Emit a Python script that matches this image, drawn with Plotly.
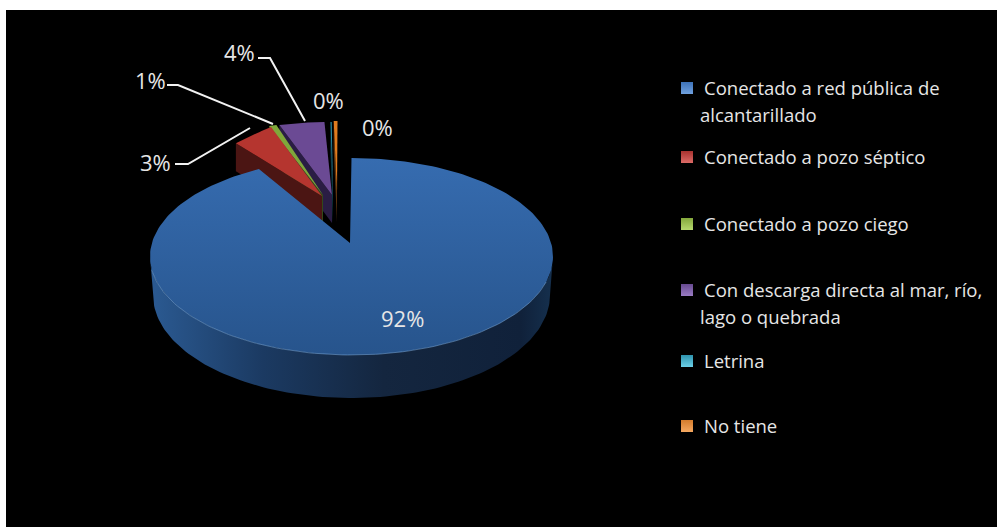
import math
import plotly.graph_objects as go

# ---- data ----
categories = ["Conectado a red pública de alcantarillado", "Conectado a pozo séptico",
              "Conectado a pozo ciego", "Con descarga directa al mar, río, lago o quebrada",
              "Letrina", "No tiene"]
shares = [92.4, 3.0, 0.6, 3.6, 0.1, 0.3]
percent_labels = ["92%", "3%", "1%", "4%", "0%", "0%"]
legend_lines = [["Conectado a red pública de", "alcantarillado"], ["Conectado a pozo séptico"],
                ["Conectado a pozo ciego"], ["Con descarga directa al mar, río,", "lago o quebrada"],
                ["Letrina"], ["No tiene"]]

# ---- styles and layout ----
W, H = 997, 527
FONT = "Open Sans"
face_colors = ["#2f62a3", "#b5352f", "#7fa83a", "#6b4a94", "#2b8ea8", "#e07b1f"]
wall_colors = ["#1a3a66", "#4b1513", "#33491a", "#2a1d44", "#0e3a47", "#5e3410"]
legend_fill = ["#3d72b8", "#a8322f", "#84a83c", "#674a90", "#2e93ad", "#d47c2c"]
legend_lite = ["#6fa0de", "#dc6a66", "#b6d86e", "#9a7cc4", "#6cd0e8", "#f5a860"]

CX, CY, RX, RY = 351.5, 256.5, 201.5, 98.5      # top ellipse
BCY, BRX, BRY = 295, 198.5, 103                  # bottom ellipse of the main slice
APEX = (350, 243)                                # main slice apex
EXP_APEX_Y = 231                                 # apex height used by the pulled-out slices
offsets = [(0, 0), (-23, -35), (-25, -36), (-22, -36), (-16, -36), (-14, -37)]
apex_dx = [0, -28, -27, -18, -17, -13]
shear = [0, 0.26, 0, 0, 0, 0]
WALL_D = 28

label_pos = [(402, 318), (155, 162), (150, 80), (239, 52), (328, 100), (377, 127)]
leaders = [None, [(175, 164), (188, 164), (250, 128)], [(167, 85), (178, 85), (273, 124)],
           [(258, 58), (270, 58), (305, 121)], None, None]
legend_first_y = [88, 157, 224, 290, 361, 426]
LEGEND_LINE_GAP = 27


def rim(t0, t1, n, cy=CY, rx=RX, ry=RY):
    n = max(n, 2)
    ts = [math.radians(t0 + (t1 - t0) * i / (n - 1)) for i in range(n)]
    return [CX + rx * math.sin(t) for t in ts], [cy - ry * math.cos(t) for t in ts]


def poly(xs, ys, color=None, gradient=None):
    d = dict(x=xs + xs[:1], y=ys + ys[:1], mode="lines", fill="toself", line=dict(width=0),
             hoverinfo="skip", showlegend=False)
    if gradient:
        d["fillgradient"] = gradient
        d["fillcolor"] = "rgba(0,0,0,0)"
    else:
        d["fillcolor"] = color
    return go.Scatter(**d)


# slice angles from the shares (clockwise from 12 o'clock)
total = sum(shares)
angles = [0]
for v in shares:
    angles.append(angles[-1] + 360 * v / total)

fig = go.Figure()

# pulled-out slices, back to front
for i in range(len(shares) - 1, 0, -1):
    dx, dy = offsets[i]
    px, py = rim(angles[i], angles[i + 1], 20)
    x_end = px[-1]
    ry_ = [y + dy - shear[i] * (x - x_end) for x, y in zip(px, py)]
    rx_ = [x + dx for x in px]
    ax, ay = APEX[0] + apex_dx[i], EXP_APEX_Y + dy
    # radial wall on the left of the slice
    fig.add_trace(poly([rx_[0], rx_[0], ax, ax], [ry_[0], ry_[0] + WALL_D, ay + WALL_D, ay], wall_colors[i]))
    fig.add_trace(poly(rx_ + [ax], ry_ + [ay], face_colors[i]))

# main slice: outer wall, then top face
tx, ty = rim(90, 270, 120)
bx, by = rim(90, 270, 120, cy=BCY, rx=BRX, ry=BRY)
fig.add_trace(poly(tx + bx[::-1], ty + by[::-1], gradient=dict(
    type="horizontal",
    colorscale=[[0, "#2b5a92"], [0.28, "#1b3a62"], [0.58, "#14263f"], [0.92, "#10213a"], [1, "#15304e"]])))
mx, my = rim(0, angles[1], 240)
fig.add_trace(poly(mx + [APEX[0]], my + [APEX[1]], gradient=dict(
    type="vertical", colorscale=[[0, "#27548c"], [1, "#366cb0"]])))
# soft highlight on the front edge
hx, hy = rim(105, 262, 100)
fig.add_trace(go.Scatter(x=hx, y=hy, mode="lines", line=dict(color="rgba(120,165,215,0.55)", width=1),
                         hoverinfo="skip", showlegend=False))

# leader lines
for pts in leaders:
    if pts:
        fig.add_trace(go.Scatter(x=[p[0] for p in pts], y=[p[1] for p in pts], mode="lines",
                                 line=dict(color="#f2f2f2", width=2), hoverinfo="skip", showlegend=False))

# legend squares
fig.add_trace(go.Scatter(
    x=[687] * len(categories), y=legend_first_y, mode="markers", hoverinfo="skip", showlegend=False,
    marker=dict(symbol="square", size=12, color=legend_fill,
                gradient=dict(type="vertical", color=legend_lite), line=dict(width=0))))

annotations = []
for (x, y), s in zip(label_pos, percent_labels):
    annotations.append(dict(x=x, y=y, text=s, showarrow=False, xanchor="center", yanchor="middle",
                            font=dict(family=FONT, size=22, color="#e6e6e6")))
for y0, lines in zip(legend_first_y, legend_lines):
    for j, s in enumerate(lines):
        annotations.append(dict(x=703 if j == 0 else 699, y=y0 + j * LEGEND_LINE_GAP - 1, text=s, showarrow=False,
                                xanchor="left", yanchor="middle", align="left", xshift=-1,
                                font=dict(family=FONT, size=18.5, color="#e6e6e6")))

fig.update_layout(
    width=W, height=H, margin=dict(l=0, r=0, t=0, b=0), paper_bgcolor="#ffffff", plot_bgcolor="#ffffff",
    xaxis=dict(range=[0, W], visible=False, fixedrange=True),
    yaxis=dict(range=[H, 0], visible=False, fixedrange=True),
    annotations=annotations, showlegend=False,
    shapes=[dict(type="rect", x0=6, x1=W, y0=10, y1=H, fillcolor="#000000", line=dict(width=0), layer="below")],
)
fig.write_html("out.html", config=dict(displayModeBar=False),
               post_script="document.body.style.margin='0';document.body.style.overflow='hidden';")
